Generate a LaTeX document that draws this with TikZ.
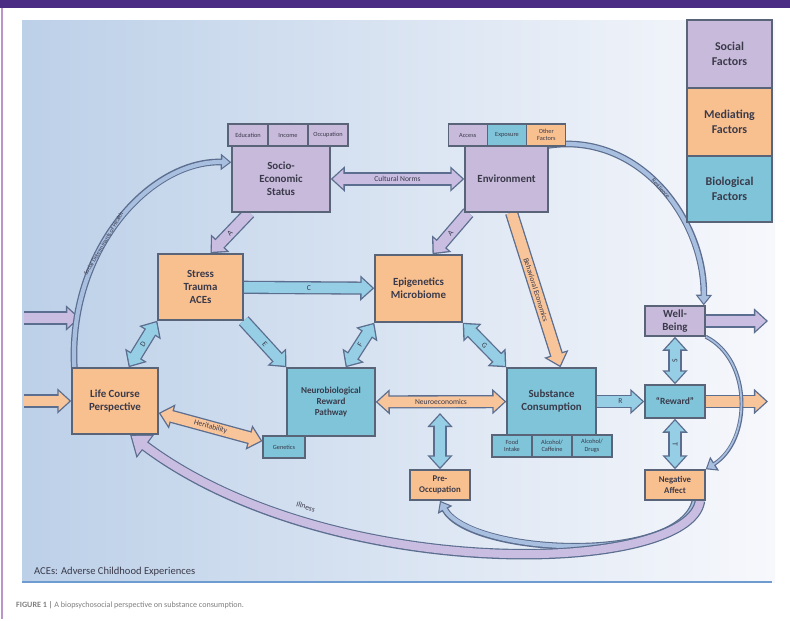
\documentclass[tikz,border=0pt]{standalone}
\usepackage{fontspec}
\setmainfont{Carlito}
\usepackage{tikz}
\usetikzlibrary{arrows.meta, positioning, calc}
\definecolor{bandcol}{HTML}{4B2C84}
\definecolor{panelL}{HTML}{BCD0E8}
\definecolor{panelR}{HTML}{F7F8FC}
\definecolor{socfill}{HTML}{C8BADB}
\definecolor{medfill}{HTML}{F9C08F}
\definecolor{biofill}{HTML}{7FC4D9}
\definecolor{socarrow}{HTML}{C9BEE2}
\definecolor{medarrow}{HTML}{F8C49A}
\definecolor{bioarrow}{HTML}{95CEE5}
\definecolor{curvefill}{HTML}{A9BFE0}
\definecolor{edgecol}{HTML}{5C6E8F}
\definecolor{boxline}{HTML}{5A6478}
\definecolor{textcol}{HTML}{3A3A4A}
\definecolor{ruleblue}{HTML}{6E9BD0}
\pgfdeclarelayer{panel}
\pgfdeclarelayer{links}
\pgfsetlayers{panel,links,main}
\tikzset{
    bigtip/.tip={Triangle[length=8pt,width=14pt]},
    bigin/.tip={Triangle[length=6.1pt,width=10.7pt]},
    ctip/.tip={Triangle[length=6pt,width=9pt]},
    cin/.tip={Triangle[length=4.1pt,width=6.2pt]},
    illtip/.tip={Triangle[length=11pt,width=16pt]},
    illin/.tip={Triangle[length=9.1pt,width=13.2pt]},
    fatout/.style={line width=7.5pt, draw=edgecol},
    fatin/.style={line width=6pt, draw=#1},
    lbl/.style={font=\fontsize{4.3}{5}\selectfont, text=textcol, inner sep=0.5pt}
}
% block arrows: outline first, then the filling
\newcommand{\onearrow}[4]{%
    \draw[fatout, -bigtip] (#1) -- (#2);
    \draw[fatin=#3, -bigin, shorten >=1.14pt] (#1) -- node[lbl, sloped] {#4} (#2);}
\newcommand{\twoarrow}[4]{%
    \draw[fatout, bigtip-bigtip] (#1) -- (#2);
    \draw[fatin=#3, bigin-bigin, shorten >=1.14pt, shorten <=1.14pt] (#1) -- node[lbl, sloped] {#4} (#2);}

\begin{document}
\begin{tikzpicture}[
    x=0.02cm, y=-0.02cm,
    box/.style={draw=boxline, line width=0.8pt, font=\fontsize{6.2}{7.4}\selectfont\bfseries, text=textcol, align=center, inner sep=1pt},
    social/.style={box, fill=socfill},
    mediating/.style={box, fill=medfill},
    biological/.style={box, fill=biofill},
    tag/.style={line width=0.6pt, font=\fontsize{3.6}{4.2}\selectfont\mdseries, minimum width=0.8cm, minimum height=0.44cm},
    legend/.style={box, font=\fontsize{6.8}{8.2}\selectfont\bfseries, minimum width=1.7cm, minimum height=1.36cm}
]
    % page and panel
    \begin{pgfonlayer}{panel}
    \fill[white] (0,0) rectangle (790,619);
    \fill[bandcol] (0,0) rectangle (790,8);
    \draw[socfill!80!violet, line width=1.2pt] (2,8) -- (2,619);
    \shade[left color=panelL, right color=panelR] (22,20) rectangle (775,582);
    \draw[ruleblue, line width=1.3pt] (22,582) -- (772,582);
    \end{pgfonlayer}

    % Legend
    \node[legend, fill=socfill] (legS) at (729.5,54) {Social\\Factors};
    \node[legend, fill=medfill] (legM) at (729.5,122) {Mediating\\Factors};
    \node[legend, fill=biofill, minimum height=1.32cm] (legB) at (729.5,189) {Biological\\Factors};

    % Social factors
    \node[social, minimum width=1.96cm, minimum height=1.32cm] (ses) at (281,179) {Socio-\\Economic\\Status};
    \node[social, tag] (sesEdu) at (248,135) {Education};
    \node[social, tag] (sesInc) at (288,135) {Income};
    \node[social, tag] (sesOcc) at (328,135) {Occupation};
    \node[social, minimum width=1.66cm, minimum height=1.32cm] (env) at (506.5,179) {Environment};
    \node[social, tag, minimum width=0.786cm] (envAcc) at (467.7,135) {Access};
    \node[biological, tag, minimum width=0.786cm] (envExp) at (507,135) {Exposure};
    \node[mediating, tag, minimum width=0.786cm] (envOth) at (546.3,135) {Other\\Factors};
    \node[social, minimum width=1.2cm, minimum height=0.6cm] (well) at (675,321) {Well-\\Being};

    % Mediating factors
    \node[mediating, minimum width=1.7cm, minimum height=1.32cm] (stress) at (200.5,287) {Stress\\Trauma\\ACEs};
    \node[mediating, minimum width=1.74cm, minimum height=1.34cm] (epi) at (418.5,288.5) {Epigenetics\\Microbiome};
    \node[mediating, minimum width=1.72cm, minimum height=1.32cm] (life) at (115,401) {Life Course\\Perspective};
    \node[mediating, minimum width=1.2cm, minimum height=0.6cm, font=\fontsize{5}{6}\selectfont\bfseries] (pre) at (440,485) {Pre-\\Occupation};
    \node[mediating, minimum width=1.2cm, minimum height=0.6cm, font=\fontsize{5}{6}\selectfont\bfseries] (neg) at (675,485) {Negative\\Affect};

    % Biological factors
    \node[biological, minimum width=1.76cm, minimum height=1.36cm, font=\fontsize{5.2}{6.4}\selectfont\bfseries] (neuro) at (331,402) {Neurobiological\\Reward\\Pathway};
    \node[biological, tag, minimum width=0.84cm] (gen) at (284,447) {Genetics};
    \node[biological, minimum width=1.78cm, minimum height=1.34cm] (subst) at (551.5,401.5) {Substance\\Consumption};
    \node[biological, tag] (substFood) at (512,446) {Food\\Intake};
    \node[biological, tag] (substCaf) at (552,446) {Alcohol/\\Caffeine};
    \node[biological, tag] (substDrug) at (592,446) {Alcohol/\\Drugs};
    \node[biological, minimum width=1.2cm, minimum height=0.66cm, font=\fontsize{5.4}{6.4}\selectfont\bfseries] (reward) at (675,401.5) {``Reward''};

    % Texts
    \node[anchor=west, font=\fontsize{6}{7}\selectfont, text=textcol] (aces) at (28,572) {ACEs: Adverse Childhood Experiences};
    \node[anchor=west, font=\fontsize{4.6}{5.5}\selectfont, text=gray] (caption) at (10,605) {{\bfseries FIGURE 1 |} A biopsychosocial perspective on substance consumption.};

    % Free ends
    \coordinate (inS) at (24,318);
    \coordinate (inSend) at (80,318);
    \coordinate (inM) at (24,401);
    \coordinate (outW) at (768,321);
    \coordinate (outR) at (768,401.5);
    \coordinate (neco) at (440,413);

    \begin{pgfonlayer}{links}
    % Block arrows
    \twoarrow{ses}{env}{socarrow}{Cultural Norms}
    \onearrow{$(ses.south west)+(18,0)$}{$(stress.north)+(10,0)$}{socarrow}{A}
    \onearrow{$(env.south west)+(4,0)$}{$(epi.north)+(14,0)$}{socarrow}{A}
    \onearrow{$(env.south)+(5,0)$}{$(subst.north)+(9,0)$}{medarrow}{Behavioral Economics}
    \onearrow{stress}{epi}{bioarrow}{C}
    \twoarrow{stress.south west}{$(life.north east)+(-30,0)$}{bioarrow}{D}
    \onearrow{stress.south east}{neuro.north west}{bioarrow}{E}
    \twoarrow{epi.south west}{$(neuro.north east)+(-30,0)$}{bioarrow}{F}
    \twoarrow{epi.south east}{subst.north west}{bioarrow}{G}
    \twoarrow{neuro}{subst}{medarrow}{Neuroeconomics}
    \twoarrow{neco}{pre}{bioarrow}{}
    \twoarrow{life}{gen}{medarrow}{Heritability}
    \onearrow{subst}{reward}{bioarrow}{R}
    \twoarrow{reward}{well}{bioarrow}{S}
    \twoarrow{reward}{neg}{bioarrow}{T}
    \onearrow{well}{outW}{socarrow}{}
    \onearrow{reward}{outR}{medarrow}{}
    \onearrow{inM}{life}{medarrow}{}
    \onearrow{inS}{inSend}{socarrow}{}

    % Curved arrows
    \draw[line width=3.8pt, edgecol, -ctip] ($(life.north west)+(3,0)$) .. controls (68,250) and (150,160) .. ($(ses.north west)+(0,17)$);
    \draw[line width=2.4pt, curvefill, -cin, shorten >=1.1pt] ($(life.north west)+(3,0)$) .. controls (68,250) and (150,160) .. ($(ses.north west)+(0,17)$)
        node[lbl, sloped, pos=0.4, font=\fontsize{3.4}{4}\selectfont] {Social Determinants of Health};
    \draw[line width=3.8pt, edgecol, -ctip] (env.north east) .. controls (640,132) and (705,220) .. ($(well.north east)+(-2,0)$);
    \draw[line width=2.4pt, curvefill, -cin, shorten >=1.1pt] (env.north east) .. controls (640,132) and (705,220) .. ($(well.north east)+(-2,0)$)
        node[lbl, sloped, pos=0.5, font=\fontsize{3.4}{4}\selectfont] {Resilience};
    \draw[line width=2.2pt, edgecol, -ctip] (well.south east) .. controls (752,360) and (752,440) .. (neg.north east);
    \draw[line width=1pt, curvefill, -cin, shorten >=1.1pt] (well.south east) .. controls (752,360) and (752,440) .. (neg.north east);
    \draw[line width=3.8pt, edgecol, -ctip] ($(neg.south)+(20,0)$) .. controls (680,565) and (470,555) .. (pre.south);
    \draw[line width=2.4pt, curvefill, -cin, shorten >=1.1pt] ($(neg.south)+(20,0)$) .. controls (680,565) and (470,555) .. (pre.south);
    \draw[line width=6pt, edgecol, -illtip] ($(neg.south)+(25,0)$) .. controls (690,575) and (330,585) .. ($(life.south)+(15,0)$);
    \draw[line width=4.6pt, socarrow, -illin, shorten >=1.19pt] ($(neg.south)+(25,0)$) .. controls (690,575) and (330,585) .. ($(life.south)+(15,0)$)
        node[lbl, sloped, pos=0.75, above=3pt] {Illness};
    \end{pgfonlayer}
\end{tikzpicture}
\end{document}
